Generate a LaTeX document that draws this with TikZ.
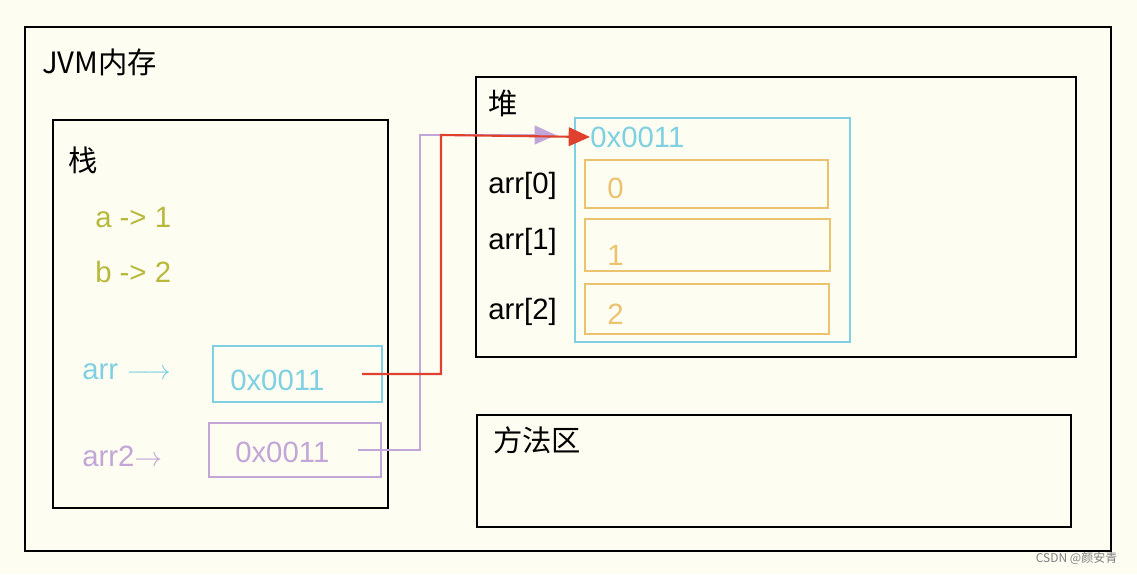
\documentclass[tikz,border=0pt]{standalone}
\usepackage{fontspec}
\setmainfont{Liberation Sans}
\newfontfamily\cjk{Noto Sans CJK SC}
\usetikzlibrary{arrows.meta}
\definecolor{bg}{HTML}{FDFDF2}
\definecolor{cy}{HTML}{7FD0E2}
\definecolor{pu}{HTML}{C3A6D8}
\definecolor{ol}{HTML}{B8B83A}
\definecolor{og}{HTML}{EBC36E}
\definecolor{rd}{HTML}{E0402E}
\begin{document}
\begin{tikzpicture}[x=0.75pt,y=-0.75pt,
  box/.style={draw=#1,line width=1.6pt},
  lbl/.style={font=\fontsize{22}{24}\selectfont,anchor=west,inner sep=0pt},
  cl/.style={font=\cjk\fontsize{22}{24}\selectfont,anchor=west,inner sep=0pt}]
\fill[bg] (0,0) rectangle (1137,574);
\useasboundingbox (0,0) rectangle (1137,574);
\draw[box=black] (25,27) rectangle (1111,551);
\draw[box=black] (53,120) rectangle (388,508);
\draw[box=black] (476,77) rectangle (1076,357);
\draw[box=black] (477,415) rectangle (1071,527);
\draw[box=cy] (575,118) rectangle (850,342);
\draw[box=og] (585,160) rectangle (828,208);
\draw[box=og] (585,219) rectangle (830,271);
\draw[box=og] (585,284) rectangle (829,334);
\draw[box=cy] (213,346) rectangle (382,402);
\draw[box=pu] (209,423) rectangle (381,477);
\node[cl] (jvm) at (42,62) {JVM内存};
\node[cl] (zhan) at (68,160) {栈};
\node[lbl,text=ol] (a) at (95,218) {a -> 1};
\node[lbl,text=ol] (b) at (95,272) {b -> 2};
\node[lbl,text=cy] (arr) at (82,372) {arr $\longrightarrow$};
\node[lbl,text=pu] (arr2) at (82,456) {arr2$\rightarrow$};
\node[lbl,text=cy] (v1) at (230,380) {0x0011};
\node[lbl,text=pu] (v2) at (235,452) {0x0011};
\node[cl] (dui) at (488,103) {堆};
\node[lbl,text=cy] (h) at (590,137) {0x0011};
\node[lbl] (a0) at (488,186) {arr[0]};
\node[lbl] (a1) at (488,242) {arr[1]};
\node[lbl] (a2) at (488,312) {arr[2]};
\node[lbl,text=og] (e0) at (607,188) {0};
\node[lbl,text=og] (e1) at (607,255) {1};
\node[lbl,text=og] (e2) at (607,314) {2};
\node[cl] (ff) at (493,440) {方法区};
\node[font=\cjk\fontsize{9}{10}\selectfont,text=gray,anchor=east] (wm) at (1122,558) {CSDN @颜安青};
\coordinate (ps) at (358,450);
\coordinate (rs) at (362,374);
\draw[pu,line width=1.6pt,-{Triangle[length=16pt,width=14pt]}] (ps) -- (420,450) -- (420,135) -- (556,135);
\draw[rd,line width=1.6pt,-{Triangle[length=16pt,width=14pt]}] (rs) -- (441,374) -- (441,135) -- (h.west);
\end{tikzpicture}
\end{document}
